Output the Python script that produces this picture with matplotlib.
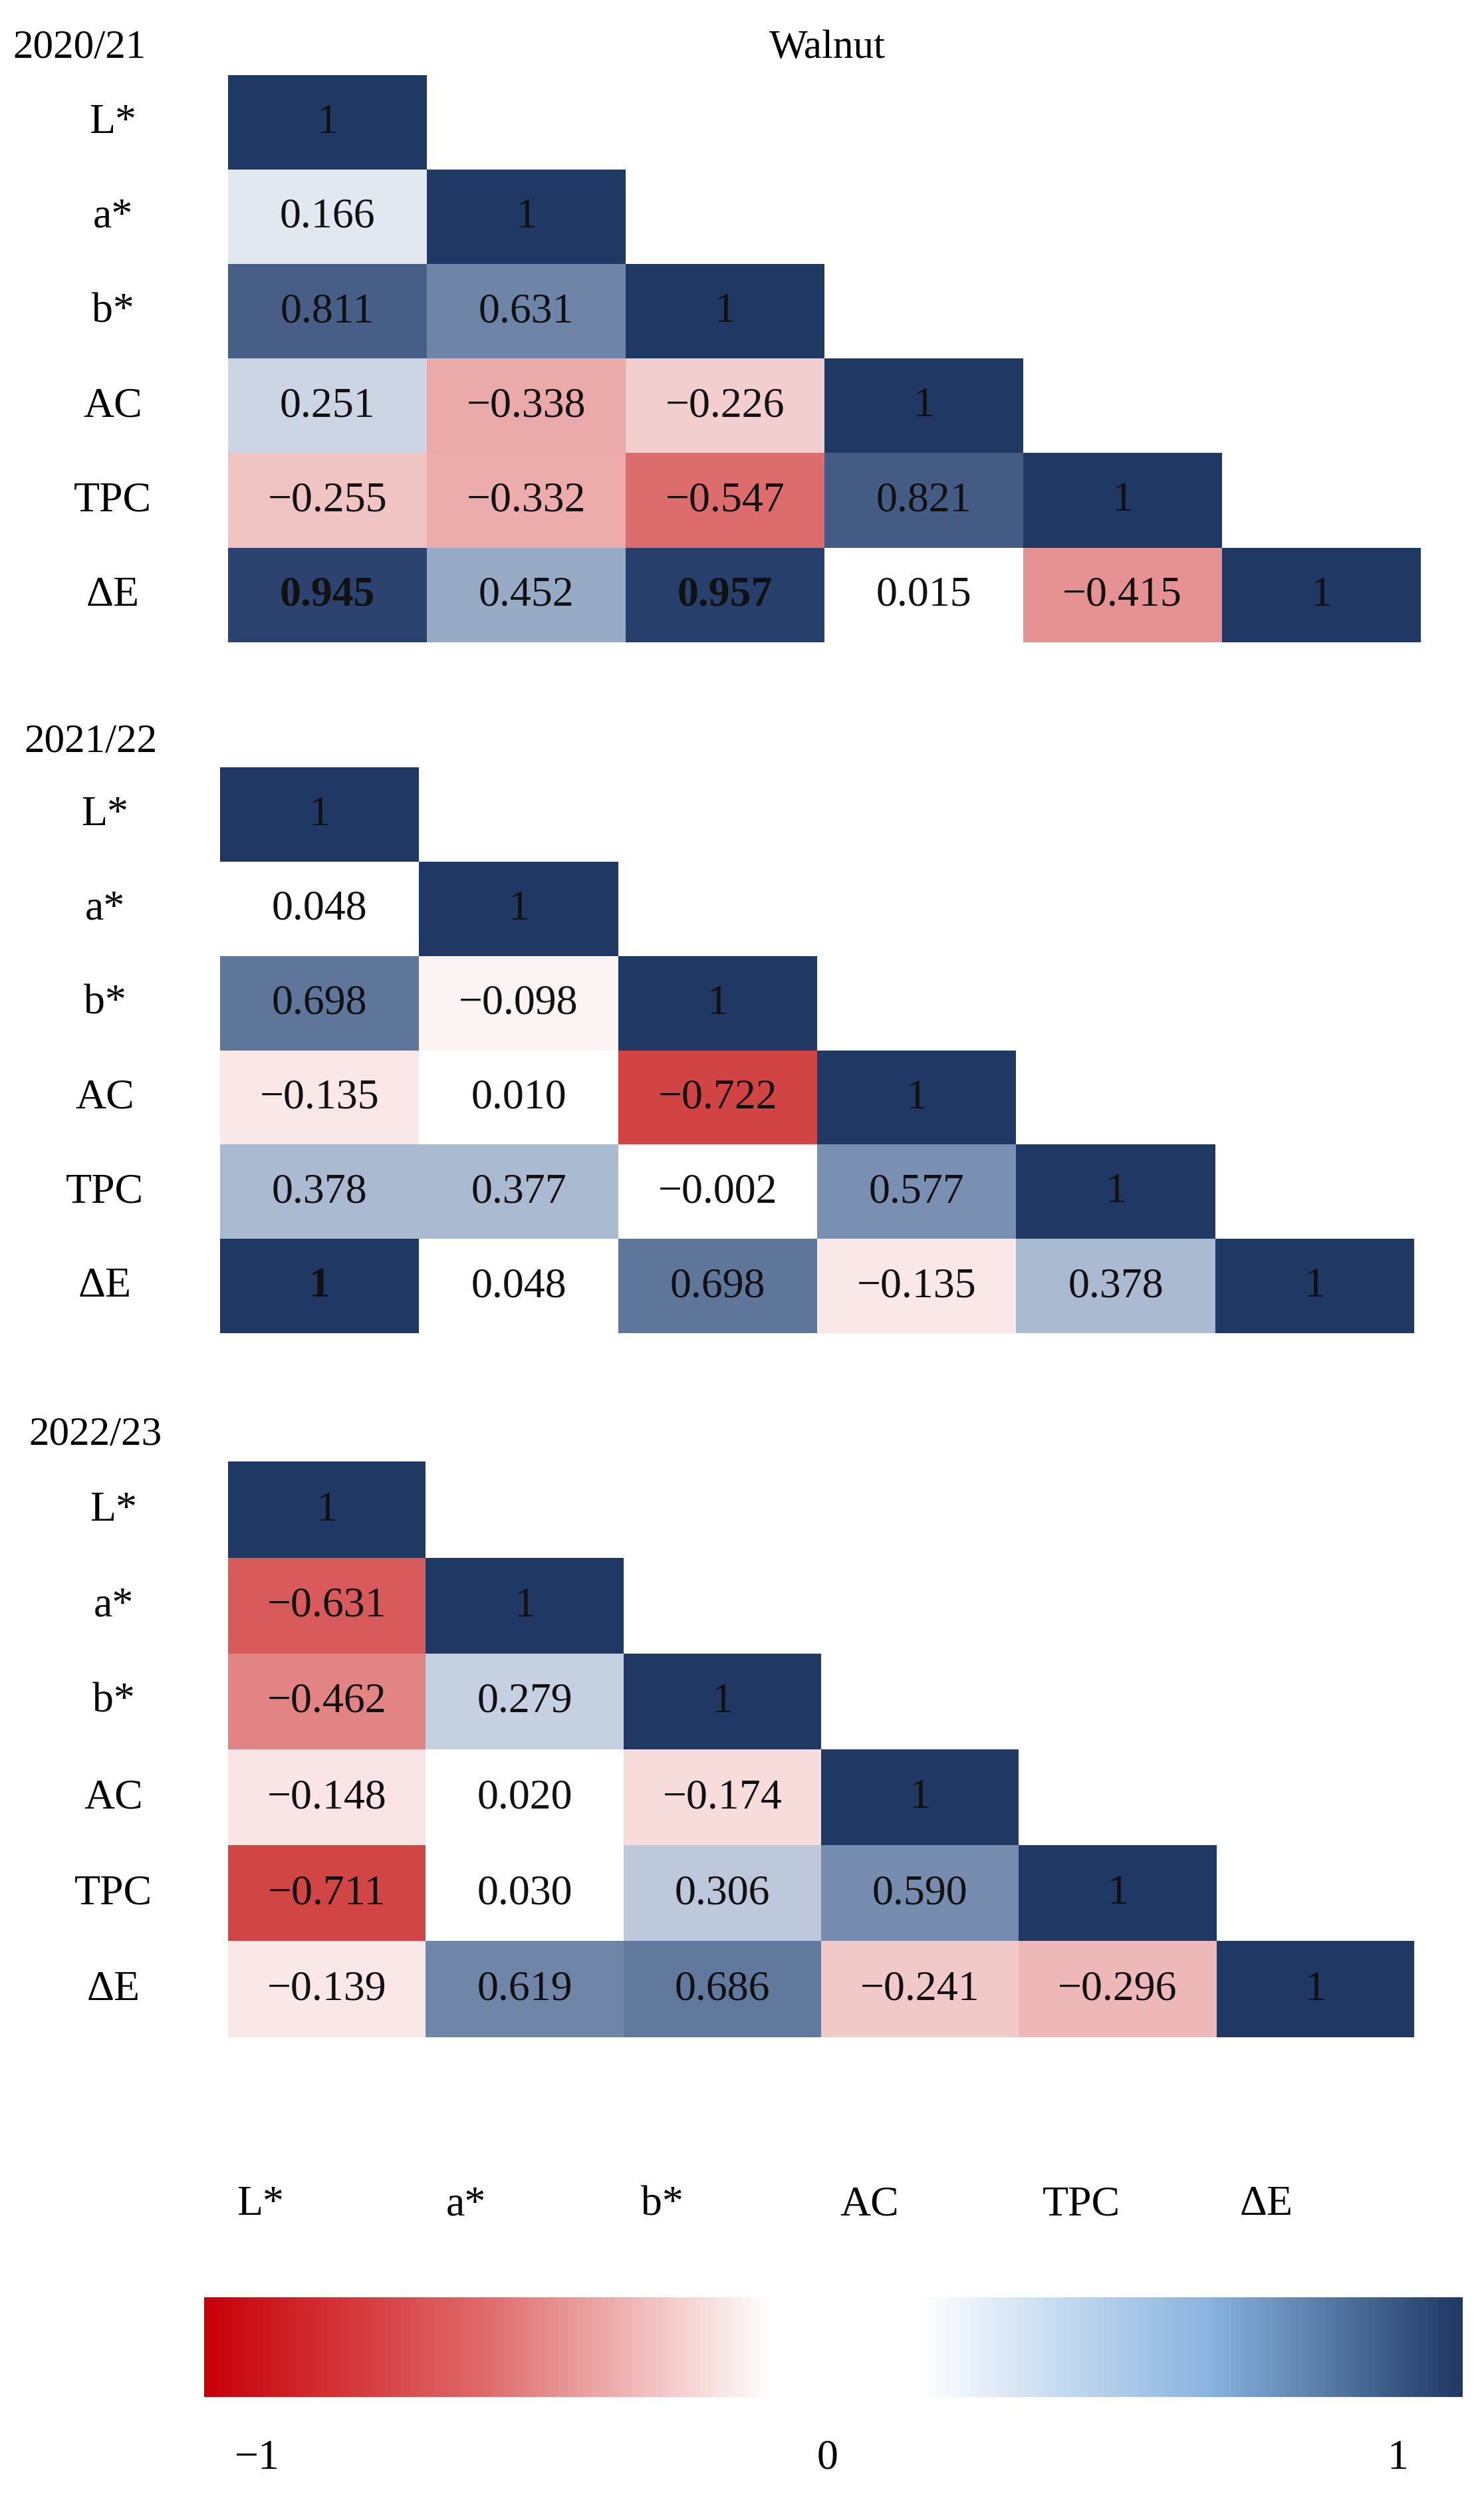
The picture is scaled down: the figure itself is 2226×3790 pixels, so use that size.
import matplotlib
matplotlib.use("Agg")
import matplotlib.pyplot as plt
import numpy as np
from matplotlib.colors import LinearSegmentedColormap

labels = ["L*", "a*", "b*", "AC", "TPC", "ΔE"]
years = ["2020/21", "2021/22", "2022/23"]
lower_2021 = [[1],[0.166,1],[0.811,0.631,1],[0.251,-0.338,-0.226,1],[-0.255,-0.332,-0.547,0.821,1],[0.945,0.452,0.957,0.015,-0.415,1]]
lower_2122 = [[1],[0.048,1],[0.698,-0.098,1],[-0.135,0.010,-0.722,1],[0.378,0.377,-0.002,0.577,1],[1,0.048,0.698,-0.135,0.378,1]]
lower_2223 = [[1],[-0.631,1],[-0.462,0.279,1],[-0.148,0.020,-0.174,1],[-0.711,0.030,0.306,0.590,1],[-0.139,0.619,0.686,-0.241,-0.296,1]]
bold_cells = [[(5,0),(5,2)], [(5,0)], []]
data = [lower_2021, lower_2122, lower_2223]

cmap = LinearSegmentedColormap.from_list("rb", [(0,"#c00000"),(0.25,"#e07a7a"),(0.47,"#ffffff"),(0.53,"#ffffff"),(0.75,"#8aa0c0"),(1,"#1f3864")])
cbar_cmap = LinearSegmentedColormap.from_list("rb2", [(0,"#c8000a"),(0.22,"#e06a6a"),(0.45,"#ffffff"),(0.57,"#ffffff"),(0.8,"#8ab4e0"),(1,"#1f3864")])

W, H = 2226, 3791
s = W/921
fig = plt.figure(figsize=(W/100, H/100), dpi=100)
font = "Liberation Serif"
fs = 46

def ax_at(x0, y0, x1, y1):
    return fig.add_axes([x0*s/W, 1-y1*s/H, (x1-x0)*s/W, (y1-y0)*s/H])

boxes = [(142,47,884,400),(137,478,880,830),(142,910,880,1268)]
ylabs = [(8,30),(15,462),(18,893)]
for k,(box,lower) in enumerate(zip(boxes,data)):
    ax = ax_at(*box)
    M = np.full((6,6), np.nan)
    for i,row in enumerate(lower):
        for j,v in enumerate(row):
            M[i,j] = v
    ax.pcolormesh(np.ma.masked_invalid(M), cmap=cmap, vmin=-1, vmax=1)
    ax.set_xlim(0,6); ax.set_ylim(6,0)
    ax.axis("off")
    for i,row in enumerate(lower):
        for j,v in enumerate(row):
            txt = "1" if v == 1 else f"{v:.3f}".replace("-", "−")
            ax.text(j+0.5, i+0.5, txt, ha="center", va="center", fontsize=fs, family=font,
                    weight="bold" if (i,j) in bold_cells[k] else "normal", color="#111111")
        ax.text(-0.58, i+0.5, labels[i], ha="center", va="center", fontsize=fs, family=font)
    fig.text(ylabs[k][0]*s/W, 1-ylabs[k][1]*s/H, years[k], ha="left", va="center", fontsize=fs-2, family=font)

fig.text(515*s/W, 1-30*s/H, "Walnut", ha="center", va="center", fontsize=fs-2, family=font)
colx = [162, 290, 412, 541, 673, 788]
for x,l in zip(colx, labels):
    fig.text(x*s/W, 1-1372*s/H, l, ha="center", va="center", fontsize=fs, family=font)

cax = ax_at(127,1430,910,1492)
cax.imshow(np.linspace(-1,1,512)[None,:], aspect="auto", cmap=cbar_cmap, vmin=-1, vmax=1, extent=[-1,1,0,1])
cax.axis("off")
for x,t in [(160,"−1"),(515,"0"),(870,"1")]:
    fig.text(x*s/W, 1-1530*s/H, t, ha="center", va="center", fontsize=fs, family=font)

fig.savefig("out.png", dpi=100, facecolor="white")
